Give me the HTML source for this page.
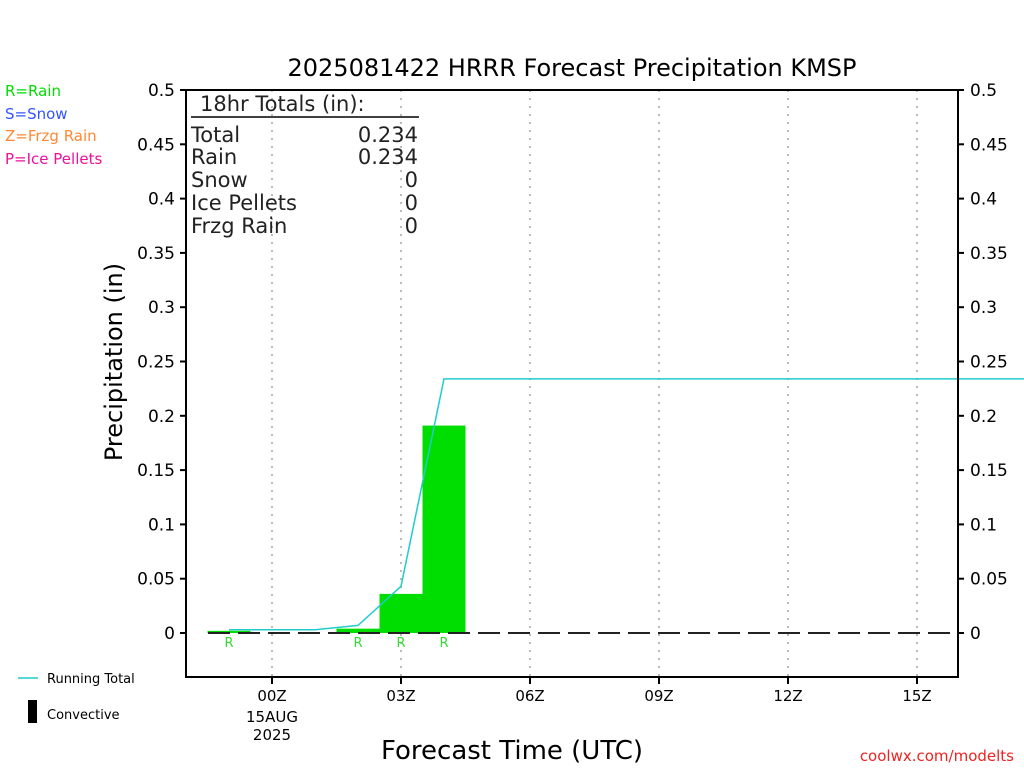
<!DOCTYPE html>
<html><head><meta charset="utf-8"><style>
body{margin:0;background:#fff;width:1024px;height:768px;overflow:hidden}
svg text{font-family:"DejaVu Sans","Liberation Sans",sans-serif}
</style></head><body>
<svg id="c" width="1024" height="768">
<text x="572" y="76" font-size="24" text-anchor="middle">2025081422 HRRR Forecast Precipitation KMSP</text>
<g font-size="15">
<text x="5" y="96" fill="#00dd00">R=Rain</text>
<text x="5" y="119" fill="#3355ff">S=Snow</text>
<text x="5" y="141" fill="#ff8833">Z=Frzg Rain</text>
<text x="5" y="164" fill="#ee1199">P=Ice Pellets</text>
</g>
<g id="grid"></g><g id="bars"></g><g id="line"></g><g id="axes"></g>
<rect x="186" y="90" width="772" height="587" fill="none" stroke="#000" stroke-width="2"/>
<g font-size="21" fill="#222">
<text x="200" y="111">18hr Totals (in):</text>
<line x1="191" y1="117" x2="419" y2="117" stroke="#000" stroke-width="1.5"/>
<text x="191" y="142">Total</text><text x="418" y="142" text-anchor="end">0.234</text>
<text x="191" y="164">Rain</text><text x="418" y="164" text-anchor="end">0.234</text>
<text x="191" y="187">Snow</text><text x="418" y="187" text-anchor="end">0</text>
<text x="191" y="210">Ice Pellets</text><text x="418" y="210" text-anchor="end">0</text>
<text x="191" y="233">Frzg Rain</text><text x="418" y="233" text-anchor="end">0</text>
</g>
<text transform="translate(122,362) rotate(-90)" font-size="24" text-anchor="middle">Precipitation (in)</text>
<text x="512" y="759" font-size="26" text-anchor="middle">Forecast Time (UTC)</text>
<text x="272" y="722" font-size="15" text-anchor="middle">15AUG</text>
<text x="272" y="740" font-size="15" text-anchor="middle">2025</text>
<g font-size="13">
<line x1="18" y1="678" x2="38" y2="678" stroke="#22cccc" stroke-width="1.5"/>
<text x="47" y="683">Running Total</text>
<rect x="28" y="700" width="9" height="23" fill="#000"/>
<text x="47" y="719">Convective</text>
</g>
<text x="1014" y="761" font-size="15" fill="#ee2222" text-anchor="end">coolwx.com/modelts</text>
</svg>
<script>
const hours=[-1,2,3,4];
const barValues=[0.002,0.004,0.036,0.191];
const lineHours=[-1,0,1,2,3,4,18];
const lineValues=[0.003,0.003,0.003,0.007,0.043,0.234,0.234];
const yTicks=[0,0.05,0.1,0.15,0.2,0.25,0.3,0.35,0.4,0.45,0.5];
const xTickHours=[0,3,6,9,12,15];
const xTickLabels=["00Z","03Z","06Z","09Z","12Z","15Z"];
const X=h=>272+(h)*43, Y=v=>633-v*1086;
const NS="http://www.w3.org/2000/svg";
function mk(t,p,a){const e=document.createElementNS(NS,t);for(const k in a)e.setAttribute(k,a[k]);p.appendChild(e);return e;}
const g=document.getElementById('grid'),b=document.getElementById('bars'),l=document.getElementById('line'),ax=document.getElementById('axes');
xTickHours.forEach((h,i)=>{
 const gl=mk('line',g,{x1:X(h),x2:X(h),y1:90,y2:677,stroke:'#bbb','stroke-dasharray':'2,6','stroke-width':2});
 
 
 mk('line',ax,{x1:X(h),x2:X(h),y1:677,y2:684,stroke:'#000','stroke-width':2});
 const t=mk('text',ax,{x:X(h),y:701,'font-size':15,'text-anchor':'middle'});t.textContent=xTickLabels[i];
 
 
});
yTicks.forEach(v=>{
 mk('line',ax,{x1:180,x2:186,y1:Y(v),y2:Y(v),stroke:'#000','stroke-width':2});
 mk('line',ax,{x1:958,x2:964,y1:Y(v),y2:Y(v),stroke:'#000','stroke-width':2});
 const t=mk('text',ax,{x:175,y:Y(v)+6,'font-size':17,'text-anchor':'end'});t.textContent=String(v);
 
 
 const t2=mk('text',ax,{x:970,y:Y(v)+6,'font-size':17});t2.textContent=String(v);
 
 
});
hours.forEach((h,i)=>{
 const r=mk('rect',b,{x:X(h-0.5),y:Y(barValues[i]),width:43,height:Y(0)-Y(barValues[i]),fill:'#00dd00'});
 
 
 const t=mk('text',b,{x:X(h),y:647,'font-size':13,fill:'#33dd33','text-anchor':'middle'});t.textContent='R';
 
 
});
const base=mk('line',b,{x1:208,x2:958,y1:633,y2:633,stroke:'#222','stroke-width':2,'stroke-dasharray':'22,8'});


const pts=lineHours.map((h,i)=>X(h)+','+Y(lineValues[i])).join(' ');
const pl=mk('polyline',l,{points:pts,fill:'none',stroke:'#22cccc','stroke-width':1.5});


</script>
</body></html>
